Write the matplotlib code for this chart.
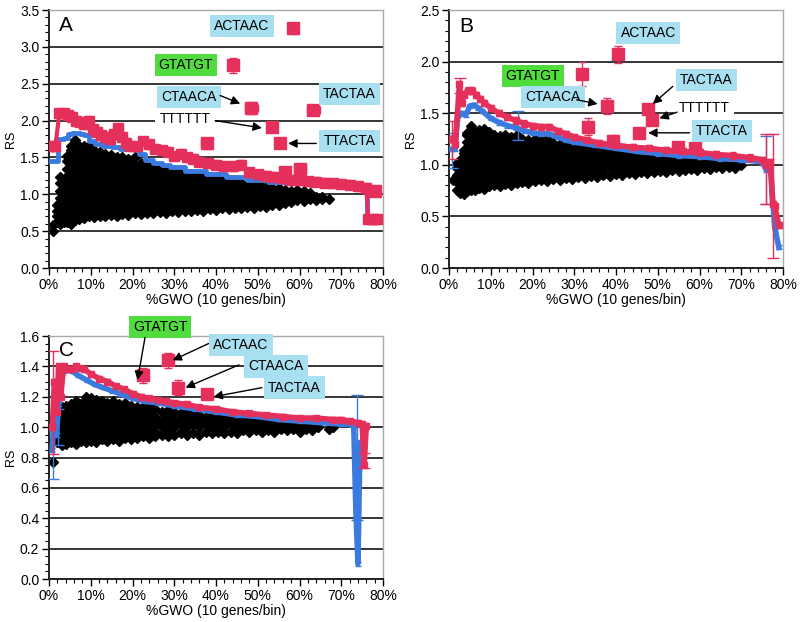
import matplotlib.pyplot as plt
from matplotlib.ticker import MultipleLocator, FuncFormatter

plt.rcParams['font.family'] = ['Liberation Sans', 'DejaVu Sans']

RED = '#e5305c'
BLUE = '#3b7be0'
CYAN = '#a8e0f2'
GREEN = '#50dc3c'

# ---------------- panel A ----------------
cloud_a_x = [1.0, 1.8, 2.6, 3.5, 4.4, 5.3, 6.2, 7.2, 8.3, 9.5, 10.8, 12.1, 13.4, 14.8, 16.2,
             17.6, 19.0, 20.5, 22.0, 23.5, 25.0, 26.5, 28.0, 29.5, 31.0, 32.5, 34.0, 35.5,
             37.0, 38.5, 40.0, 41.5, 43.0, 44.5, 46.0, 47.5, 49.0, 50.5, 52.0, 53.5, 55.0,
             56.5, 58.0, 59.5, 61.0, 62.5, 64.0, 65.5, 67.0]
cloud_a_y = [
    [0.50, 0.58],
    [0.62, 0.70, 0.78, 0.86],
    [0.60, 0.65, 0.75, 0.85, 0.95, 1.05, 1.15, 1.24],
    [0.63, 0.70, 0.80, 0.90, 1.00, 1.10, 1.20],
    [0.62, 0.65, 0.75, 0.85, 0.95, 1.05, 1.15, 1.25, 1.35, 1.45, 1.52],
    [0.60, 0.70, 0.80, 0.90, 1.00, 1.10, 1.20, 1.30, 1.40, 1.50, 1.60, 1.66],
    [0.65, 0.75, 0.85, 0.95, 1.05, 1.15, 1.25, 1.35, 1.45, 1.55, 1.65, 1.74],
    [0.66, 0.70, 0.80, 0.90, 1.00, 1.10, 1.20, 1.30, 1.40, 1.50, 1.60, 1.66],
    [0.68, 0.75, 0.85, 0.95, 1.05, 1.15, 1.25, 1.35, 1.45, 1.55, 1.65],
    [0.70, 0.80, 0.90, 1.00, 1.10, 1.20, 1.30, 1.40, 1.50, 1.60, 1.65],
    [0.69, 0.75, 0.85, 0.95, 1.05, 1.15, 1.25, 1.35, 1.45, 1.55, 1.60],
    [0.70, 0.80, 0.90, 1.00, 1.10, 1.20, 1.30, 1.40, 1.50, 1.57],
    [0.71, 0.75, 0.85, 0.95, 1.05, 1.15, 1.25, 1.35, 1.45, 1.55],
    [0.72, 0.80, 0.90, 1.00, 1.10, 1.20, 1.30, 1.40, 1.50, 1.53],
    [0.71, 0.75, 0.85, 0.95, 1.05, 1.15, 1.25, 1.35, 1.45, 1.50],
    [0.73, 0.80, 0.90, 1.00, 1.10, 1.20, 1.30, 1.40, 1.50],
    [0.72, 0.75, 0.85, 0.95, 1.05, 1.15, 1.25, 1.35, 1.45, 1.48],
    [0.74, 0.80, 0.90, 1.00, 1.10, 1.20, 1.30, 1.40, 1.50],
    [0.73, 0.75, 0.85, 0.95, 1.05, 1.15, 1.25, 1.35, 1.43],
    [0.75, 0.80, 0.90, 1.00, 1.10, 1.20, 1.30, 1.40, 1.42],
    [0.74, 0.85, 0.95, 1.05, 1.15, 1.25, 1.35, 1.40],
    [0.76, 0.80, 0.90, 1.00, 1.10, 1.20, 1.30, 1.36],
    [0.75, 0.85, 0.95, 1.05, 1.15, 1.25, 1.34],
    [0.77, 0.80, 0.90, 1.00, 1.10, 1.20, 1.30, 1.33],
    [0.76, 0.85, 0.95, 1.05, 1.15, 1.25, 1.32],
    [0.78, 0.80, 0.90, 1.00, 1.10, 1.20, 1.28],
    [0.77, 0.85, 0.95, 1.05, 1.15, 1.25, 1.27],
    [0.79, 0.90, 1.00, 1.10, 1.20, 1.26],
    [0.78, 0.85, 0.95, 1.05, 1.15, 1.25],
    [0.80, 0.90, 1.00, 1.10, 1.20, 1.24],
    [0.79, 0.85, 0.95, 1.05, 1.15, 1.23],
    [0.81, 0.90, 1.00, 1.10, 1.20],
    [0.80, 0.85, 0.95, 1.05, 1.15, 1.19],
    [0.82, 0.90, 1.00, 1.10, 1.18],
    [0.81, 0.85, 0.95, 1.05, 1.15],
    [0.83, 0.90, 1.00, 1.10, 1.14],
    [0.82, 0.85, 0.95, 1.05, 1.12],
    [0.84, 0.90, 1.00, 1.10, 1.12],
    [0.83, 0.85, 0.95, 1.05, 1.10],
    [0.86, 0.90, 1.00, 1.08],
    [0.85, 0.95, 1.05, 1.08],
    [0.88, 0.90, 1.00, 1.06],
    [0.90, 0.95, 1.05],
    [0.92, 1.00, 1.06],
    [0.91, 0.95, 1.04],
    [0.94, 1.00, 1.02],
    [0.92, 0.97],
    [0.93, 0.96],
    [0.94],
]
red_a_x = [0.5, 1.5, 2.5, 3.5, 4.5, 5.5, 6.5, 7.5, 8.5, 9.5, 10.5, 11.5, 12.5, 13.5, 14.5,
           15.5, 16.5, 17.5, 18.5, 19.5, 21, 22.5, 24, 25.5, 27, 28.5, 30, 31.5, 33, 34.5,
           36, 38, 40, 42, 44, 46, 48, 50, 52, 54, 56, 58, 60, 62, 64, 66, 68, 70, 72, 74,
           76, 76.5, 77.5, 78.5]
red_a_y = [1.65, 1.65, 2.1, 2.1, 2.08, 2.05, 2.0, 1.98, 1.95, 2.0, 1.88, 1.85, 1.8, 1.78,
           1.75, 1.82, 1.9, 1.78, 1.7, 1.65, 1.65, 1.72, 1.68, 1.62, 1.6, 1.58, 1.52, 1.55,
           1.5, 1.48, 1.44, 1.42, 1.4, 1.38, 1.38, 1.4, 1.3, 1.27, 1.25, 1.24, 1.22, 1.2,
           1.19, 1.18, 1.17, 1.16, 1.15, 1.14, 1.13, 1.11, 1.09, 0.66, 0.66, 0.66]
blue_a_x = [0, 1, 2, 2.5, 3, 4, 5, 6, 7, 8, 9, 10, 12, 14, 16, 18, 20, 21, 22, 24, 26, 28,
            30, 35, 40, 45, 50, 55, 60, 65, 70, 72, 74, 76, 76.3, 77, 78]
blue_a_y = [1.45, 1.45, 1.45, 1.75, 1.75, 1.76, 1.82, 1.83, 1.83, 1.82, 1.8, 1.72, 1.68,
            1.66, 1.64, 1.62, 1.62, 1.68, 1.55, 1.47, 1.43, 1.4, 1.37, 1.32, 1.27, 1.23,
            1.2, 1.17, 1.15, 1.13, 1.11, 1.12, 1.09, 1.07, 0.65, 0.65, 0.65]
out_a_x = [58.5, 44.1, 48.5, 53.4, 55.3, 63.3, 37.8, 60.1, 56.5, 78.0]
out_a_y = [3.25, 2.75, 2.17, 1.91, 1.69, 2.14, 1.69, 1.35, 1.30, 1.05]
out_a_yerr = [0.08, 0.10, 0.08, 0.04, 0.04, 0.07, 0.07, 0.05, 0.05, 0.05]
out_a_xerr = [1.0, 0.0, 1.5, 0.8, 1.0, 1.5, 1.3, 1.5, 1.2, 1.0]

# ---------------- panel B ----------------
cloud_b_x = [1.0, 1.8, 2.6, 3.5, 4.4, 5.3, 6.2, 7.2, 8.3, 9.5, 10.8, 12.1, 13.4, 14.8, 16.2,
             17.6, 19.0, 20.5, 22.0, 23.5, 25.0, 26.5, 28.0, 29.5, 31.0, 32.5, 34.0, 35.5,
             37.0, 38.5, 40.0, 41.5, 43.0, 44.5, 46.0, 47.5, 49.0, 50.5, 52.0, 53.5, 55.0,
             56.5, 58.0, 59.5, 61.0, 62.5, 64.0, 65.5, 67.0, 68.5, 70.0]
cloud_b_y = [
    [0.85],
    [0.76, 0.83, 0.90, 0.97, 1.02],
    [0.73, 0.80, 0.87, 0.94, 1.01, 1.05],
    [0.72, 0.76, 0.83, 0.90, 0.97, 1.04, 1.11, 1.14],
    [0.75, 0.80, 0.87, 0.94, 1.01, 1.08, 1.15, 1.22, 1.29, 1.31],
    [0.76, 0.83, 0.90, 0.97, 1.04, 1.11, 1.18, 1.25, 1.32, 1.38],
    [0.76, 0.80, 0.87, 0.94, 1.01, 1.08, 1.15, 1.22, 1.29, 1.32],
    [0.78, 0.83, 0.90, 0.97, 1.04, 1.11, 1.18, 1.25, 1.32, 1.34],
    [0.77, 0.80, 0.87, 0.94, 1.01, 1.08, 1.15, 1.22, 1.29, 1.35],
    [0.79, 0.83, 0.90, 0.97, 1.04, 1.11, 1.18, 1.25, 1.32],
    [0.80, 0.87, 0.94, 1.01, 1.08, 1.15, 1.22, 1.29],
    [0.79, 0.83, 0.90, 0.97, 1.04, 1.11, 1.18, 1.25, 1.28],
    [0.81, 0.87, 0.94, 1.01, 1.08, 1.15, 1.22, 1.29],
    [0.80, 0.83, 0.90, 0.97, 1.04, 1.11, 1.18, 1.25, 1.27],
    [0.82, 0.87, 0.94, 1.01, 1.08, 1.15, 1.22, 1.29],
    [0.83, 0.90, 0.97, 1.04, 1.11, 1.18, 1.25],
    [0.82, 0.87, 0.94, 1.01, 1.08, 1.15, 1.22, 1.24],
    [0.84, 0.90, 0.97, 1.04, 1.11, 1.18, 1.25],
    [0.85, 0.87, 0.94, 1.01, 1.08, 1.15, 1.22, 1.24],
    [0.84, 0.90, 0.97, 1.04, 1.11, 1.18, 1.25],
    [0.86, 0.94, 1.01, 1.08, 1.15, 1.21],
    [0.85, 0.90, 0.97, 1.04, 1.11, 1.18, 1.20],
    [0.87, 0.94, 1.01, 1.08, 1.15, 1.21],
    [0.86, 0.90, 0.97, 1.04, 1.11, 1.18, 1.19],
    [0.88, 0.94, 1.01, 1.08, 1.15, 1.19],
    [0.87, 0.90, 0.97, 1.04, 1.11, 1.18],
    [0.89, 0.94, 1.01, 1.08, 1.15, 1.17],
    [0.88, 0.90, 0.97, 1.04, 1.11, 1.16],
    [0.90, 0.94, 1.01, 1.08, 1.15, 1.16],
    [0.89, 0.97, 1.04, 1.11, 1.15],
    [0.91, 0.94, 1.01, 1.08, 1.15],
    [0.90, 0.97, 1.04, 1.11, 1.14],
    [0.92, 0.94, 1.01, 1.08, 1.13],
    [0.91, 0.97, 1.04, 1.11, 1.12],
    [0.93, 1.01, 1.08, 1.12],
    [0.92, 0.97, 1.04, 1.11],
    [0.93, 1.01, 1.08, 1.10],
    [0.94, 0.97, 1.04, 1.10],
    [0.93, 1.01, 1.08, 1.09],
    [0.95, 0.97, 1.04, 1.08],
    [0.94, 1.01, 1.08],
    [0.95, 0.97, 1.04, 1.07],
    [0.96, 1.01, 1.07],
    [0.95, 0.97, 1.04, 1.06],
    [0.97, 1.01, 1.03],
    [0.96, 0.99, 1.05],
    [0.98, 1.03],
    [0.97, 1.02],
    [0.98, 1.01],
    [0.97, 1.02],
    [1.00],
]
red_b_x = [0.5, 1.5, 2.5, 3, 3.5, 4.5, 5.5, 6.5, 7.5, 8.5, 10, 12, 14, 16, 18, 20, 22, 24,
           26, 28, 30, 33, 36, 40, 44, 48, 52, 56, 60, 64, 68, 72, 75, 76, 77, 77.5, 78, 79]
red_b_y = [1.25, 1.2, 1.78, 1.6, 1.68, 1.72, 1.72, 1.68, 1.64, 1.6, 1.55, 1.5, 1.46, 1.43,
           1.4, 1.38, 1.37, 1.37, 1.33, 1.3, 1.27, 1.24, 1.21, 1.19, 1.17, 1.16, 1.14, 1.13,
           1.12, 1.1, 1.09, 1.07, 1.05, 1.0, 1.03, 0.62, 0.6, 0.42]
blue_b_x = [0.5, 1.5, 2, 3, 4, 5, 6, 7, 8, 10, 12, 14, 16, 18, 20, 22, 24, 26, 28, 30, 35,
            40, 45, 50, 55, 60, 65, 70, 75, 76, 77, 78, 79]
blue_b_y = [1.15, 1.15, 1.45, 1.5, 1.48, 1.57, 1.58, 1.55, 1.52, 1.45, 1.41, 1.38, 1.36,
            1.33, 1.31, 1.3, 1.3, 1.27, 1.24, 1.22, 1.19, 1.16, 1.13, 1.11, 1.09, 1.08,
            1.06, 1.05, 1.03, 0.95, 0.98, 0.4, 0.2]
out_b_x = [40.5, 31.8, 37.8, 33.3, 47.7, 48.6, 45.5, 39.3, 54.9, 58.9]
out_b_y = [2.07, 1.88, 1.57, 1.37, 1.54, 1.43, 1.31, 1.23, 1.17, 1.16]
out_b_yerr = [0.08, 0.12, 0.08, 0.08, 0.04, 0.04, 0.04, 0.06, 0.03, 0.03]
# selected error bars on the binned lines (x, y, err)
ebar_red_b = ([0.7, 2.6, 76.0, 77.5], [1.24, 1.77, 0.96, 0.7], [0.18, 0.07, 0.34, 0.6])
ebar_blue_b = ([0.6, 16.5, 76.0], [1.14, 1.38, 0.95], [0.17, 0.14, 0.33])

# ---------------- panel C ----------------
cloud_c_x = [1.0, 2.0, 3.0, 4.0, 5.2, 6.4, 7.6, 8.8, 10.0, 11.3, 12.6, 14.0, 15.4, 16.8,
             18.2, 19.6, 21.0, 22.5, 24.0, 25.5, 27.0, 28.5, 30.0, 31.5, 33.0, 34.5, 36.0,
             37.5, 39.0, 40.5, 42.0, 43.5, 45.0, 46.5, 48.0, 49.5, 51.0, 52.5, 54.0, 55.5,
             57.0, 58.5, 60.0, 61.5, 63.0, 64.5, 67.0, 68.0]
cloud_c_y = [
    [0.77],
    [0.90, 0.92, 0.97, 1.02, 1.07, 1.10],
    [0.88, 0.95, 1.00, 1.05, 1.10, 1.13],
    [0.89, 0.92, 0.97, 1.02, 1.07, 1.12, 1.14],
    [0.90, 0.95, 1.00, 1.05, 1.10, 1.15],
    [0.89, 0.92, 0.97, 1.02, 1.07, 1.12, 1.17],
    [0.91, 0.95, 1.00, 1.05, 1.10, 1.15],
    [0.90, 0.92, 0.97, 1.02, 1.07, 1.12, 1.17, 1.20],
    [0.91, 0.95, 1.00, 1.05, 1.10, 1.15, 1.19],
    [0.90, 0.92, 0.97, 1.02, 1.07, 1.12, 1.17, 1.18],
    [0.92, 0.95, 1.00, 1.05, 1.10, 1.15, 1.17],
    [0.91, 0.97, 1.02, 1.07, 1.12, 1.16],
    [0.92, 0.95, 1.00, 1.05, 1.10, 1.15, 1.17],
    [0.91, 0.97, 1.02, 1.07, 1.12, 1.15],
    [0.93, 0.95, 1.00, 1.05, 1.10, 1.15, 1.16],
    [0.92, 0.97, 1.02, 1.07, 1.12, 1.14],
    [0.93, 0.95, 1.00, 1.05, 1.10, 1.13],
    [0.94, 0.97, 1.02, 1.07, 1.12, 1.13],
    [0.93, 0.95, 1.00, 1.05, 1.10, 1.14],
    [0.94, 0.97, 1.02, 1.07, 1.12],
    [0.95, 1.00, 1.05, 1.10],
    [0.94, 0.97, 1.02, 1.07, 1.11],
    [0.95, 1.00, 1.05, 1.10],
    [0.96, 0.97, 1.02, 1.07, 1.09],
    [0.95, 1.00, 1.05, 1.10],
    [0.96, 1.02, 1.07, 1.09],
    [0.95, 1.00, 1.05, 1.08],
    [0.97, 1.02, 1.07],
    [0.96, 1.00, 1.05, 1.08],
    [0.97, 1.02, 1.07],
    [0.96, 1.00, 1.05, 1.06],
    [0.97, 1.02, 1.06],
    [0.96, 1.00, 1.05],
    [0.98, 1.02, 1.05],
    [0.97, 1.00, 1.05],
    [0.98, 1.02, 1.04],
    [0.97, 1.00, 1.04],
    [0.98, 1.03],
    [0.97, 1.00, 1.03],
    [0.99, 1.03],
    [0.98, 1.02],
    [0.99, 1.02],
    [0.97, 1.01],
    [0.99, 1.02],
    [0.98, 1.01],
    [1.00],
    [0.99],
    [1.00],
]
red_c_x = [0.8, 1.3, 1.8, 2.3, 2.8, 3.5, 4.5, 5.5, 6.5, 7.5, 8.5, 10, 12, 14, 16, 18, 20,
           22, 24, 26, 28, 30, 33, 36, 40, 44, 48, 52, 56, 60, 64, 68, 70, 72, 74, 75,
           75.5, 76]
red_c_y = [1.0, 1.3, 1.1, 1.4, 1.2, 1.4, 1.38, 1.38, 1.4, 1.39, 1.38, 1.35, 1.32, 1.3,
           1.27, 1.25, 1.22, 1.2, 1.19, 1.18, 1.17, 1.16, 1.15, 1.13, 1.12, 1.1, 1.09,
           1.08, 1.07, 1.06, 1.06, 1.05, 1.05, 1.04, 1.03, 1.02, 0.75, 1.01]
blue_c_x = [0.8, 1.3, 1.8, 2.3, 2.8, 3.5, 4.5, 5.5, 7, 9, 11, 13, 15, 17, 20, 23, 26, 30,
            35, 40, 45, 50, 55, 60, 65, 70, 72, 73, 73.5, 74, 74.5, 75]
blue_c_y = [0.85, 1.2, 0.95, 1.15, 1.3, 1.37, 1.38, 1.37, 1.34, 1.31, 1.28, 1.26, 1.24,
            1.22, 1.19, 1.17, 1.16, 1.14, 1.12, 1.1, 1.08, 1.07, 1.05, 1.04, 1.03, 1.02,
            1.02, 1.0, 0.45, 0.1, 0.9, 0.75]
out_c_x = [22.5, 28.5, 31.0, 37.8]
out_c_y = [1.34, 1.44, 1.26, 1.215]
out_c_yerr = [0.05, 0.05, 0.05, 0.02]
ebar_red_c = ([1.0, 75.5], [1.16, 0.78], [0.34, 0.05])
ebar_blue_c = ([1.0, 2.2, 73.8], [0.84, 1.0, 0.8], [0.18, 0.12, 0.41])


def flatten(xs, cols):
    px, py = [], []
    for x, col in zip(xs, cols):
        px += [x] * len(col)
        py += col
    return px, py


def setup_axes(ax, ymax, ymajor, yminor):
    ax.set_xlim(0, 80)
    ax.set_ylim(0, ymax)
    ax.xaxis.set_major_locator(MultipleLocator(10))
    ax.xaxis.set_minor_locator(MultipleLocator(2))
    ax.yaxis.set_major_locator(MultipleLocator(ymajor))
    ax.yaxis.set_minor_locator(MultipleLocator(yminor))
    ax.xaxis.set_major_formatter(FuncFormatter(lambda v, p: f"{v:.0f}%"))
    ax.yaxis.set_major_formatter(FuncFormatter(lambda v, p: f"{v:.1f}"))
    ax.tick_params(which='major', direction='out', length=5, width=1, labelsize=10, pad=2)
    ax.tick_params(which='minor', direction='out', length=3, width=0.8)
    ax.yaxis.grid(True, which='major', color='black', linewidth=1.1, zorder=0)
    ax.set_axisbelow(True)
    for s in ['left', 'bottom']:
        ax.spines[s].set_color('#222222')
        ax.spines[s].set_linewidth(1.4)
    for s in ['top', 'right']:
        ax.spines[s].set_color('#aaaaaa')
        ax.spines[s].set_linewidth(1.0)
    ax.set_xlabel('%GWO (10 genes/bin)', fontsize=10, labelpad=1)
    ax.set_ylabel('RS', fontsize=9, labelpad=2)


def draw_cloud(ax, xs, cols):
    px, py = flatten(xs, cols)
    ax.plot(px, py, 'D', color='black', markersize=4.6, markeredgewidth=1.0,
            markeredgecolor='black', zorder=2)


def label(ax, text, xy, color, arrow_to=None, arrow_from=None):
    ax.text(xy[0], xy[1], text, fontsize=10, ha='center', va='center', zorder=7,
            bbox=dict(boxstyle='square,pad=0.3', facecolor=color, edgecolor='none'))
    if arrow_to is not None:
        ax.annotate('', xy=arrow_to, xytext=arrow_from, zorder=7,
                    arrowprops=dict(arrowstyle='-|>', color='black', lw=1,
                                    mutation_scale=13, shrinkA=0, shrinkB=0))


fig = plt.figure(figsize=(8, 6.22), dpi=100)
ax_a = fig.add_axes([0.06125, 0.5691, 0.4175, 0.4148])
ax_b = fig.add_axes([0.56125, 0.5691, 0.4175, 0.4148])
ax_c = fig.add_axes([0.06125, 0.0691, 0.4175, 0.3907])

# ---- A ----
setup_axes(ax_a, 3.5, 0.5, 0.1)
draw_cloud(ax_a, cloud_a_x, cloud_a_y)
ax_a.plot(blue_a_x, blue_a_y, color=BLUE, lw=3.5, drawstyle='steps-mid', zorder=3)
ax_a.errorbar(red_a_x, red_a_y, yerr=0.06, xerr=0.8, fmt='s-', color=RED, ms=7, lw=3,
              elinewidth=1, capsize=2.5, zorder=4)
ax_a.errorbar(out_a_x, out_a_y, yerr=out_a_yerr, xerr=out_a_xerr, fmt='s', color=RED,
              ms=8, elinewidth=1, capsize=3, zorder=5)
ax_a.text(2.5, 3.22, 'A', fontsize=15, zorder=7)
label(ax_a, 'ACTAAC', (46.2, 3.28), CYAN)
label(ax_a, 'GTATGT', (32.8, 2.75), GREEN)
label(ax_a, 'CTAACA', (33.6, 2.32), CYAN, (45.8, 2.23), (41.0, 2.34))
label(ax_a, 'TTTTTT', (32.6, 2.02), 'white', (51.0, 1.9), (39.8, 2.0))
label(ax_a, 'TACTAA', (72.0, 2.36), CYAN)
label(ax_a, 'TTACTA', (72.0, 1.72), CYAN, (57.3, 1.69), (64.0, 1.69))

# ---- B ----
setup_axes(ax_b, 2.5, 0.5, 0.1)
draw_cloud(ax_b, cloud_b_x, cloud_b_y)
ax_b.errorbar(blue_b_x, blue_b_y, yerr=0.02, fmt='-', color=BLUE, lw=4,
              elinewidth=1, capsize=2, zorder=3)
ax_b.errorbar(*ebar_blue_b[:2], yerr=ebar_blue_b[2], fmt='none', ecolor=BLUE,
              elinewidth=1, capsize=4, zorder=3)
ax_b.errorbar(red_b_x, red_b_y, yerr=0.03, fmt='s-', color=RED, ms=4, lw=4,
              elinewidth=1, capsize=2.5, zorder=4)
ax_b.errorbar(*ebar_red_b[:2], yerr=ebar_red_b[2], fmt='none', ecolor=RED,
              elinewidth=1, capsize=4, zorder=4)
ax_b.errorbar(out_b_x, out_b_y, yerr=out_b_yerr, fmt='s', color=RED, ms=8,
              elinewidth=1, capsize=3, zorder=5)
ax_b.text(2.5, 2.29, 'B', fontsize=15, zorder=7)
label(ax_b, 'ACTAAC', (47.7, 2.28), CYAN)
label(ax_b, 'GTATGT', (20.1, 1.86), GREEN)
label(ax_b, 'CTAACA', (24.9, 1.66), CYAN, (35.6, 1.59), (30.6, 1.63))
label(ax_b, 'TACTAA', (61.6, 1.82), CYAN, (48.8, 1.59), (53.6, 1.76))
label(ax_b, 'TTTTTT', (61.1, 1.55), 'white', (50.4, 1.45), (54.6, 1.51))
label(ax_b, 'TTACTA', (65.4, 1.33), CYAN, (47.7, 1.31), (57.6, 1.31))

# ---- C ----
setup_axes(ax_c, 1.6, 0.2, 0.05)
draw_cloud(ax_c, cloud_c_x, cloud_c_y)
ax_c.errorbar(blue_c_x, blue_c_y, yerr=0.012, fmt='-', color=BLUE, lw=4,
              elinewidth=1, capsize=2, zorder=3)
ax_c.errorbar(*ebar_blue_c[:2], yerr=ebar_blue_c[2], fmt='none', ecolor=BLUE,
              elinewidth=1, capsize=4, zorder=3)
ax_c.errorbar(red_c_x, red_c_y, yerr=0.015, fmt='s-', color=RED, ms=4, lw=4,
              elinewidth=1, capsize=2.5, zorder=4)
ax_c.errorbar(*ebar_red_c[:2], yerr=ebar_red_c[2], fmt='none', ecolor=RED,
              elinewidth=1, capsize=4, zorder=4)
ax_c.errorbar(out_c_x, out_c_y, yerr=out_c_yerr, fmt='s', color=RED, ms=8,
              elinewidth=1, capsize=3, zorder=5)
ax_c.text(2.5, 1.47, 'C', fontsize=15, zorder=7)
label(ax_c, 'GTATGT', (26.6, 1.66), GREEN, (21.2, 1.31), (23.0, 1.59))
label(ax_c, 'ACTAAC', (46.0, 1.54), CYAN, (29.6, 1.44), (38.2, 1.55))
label(ax_c, 'CTAACA', (54.4, 1.40), CYAN, (32.7, 1.26), (45.5, 1.41))
label(ax_c, 'TACTAA', (58.7, 1.26), CYAN, (39.4, 1.20), (51.0, 1.26))
for t in ax_c.texts:
    t.set_clip_on(False)

fig.savefig('out.png', dpi=100)
